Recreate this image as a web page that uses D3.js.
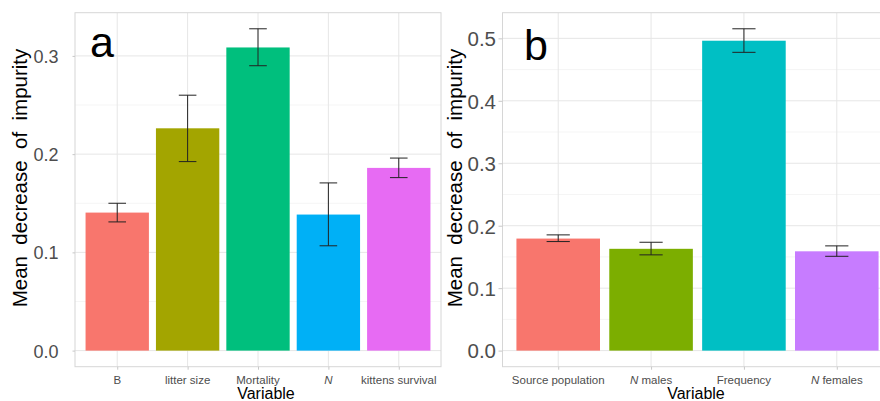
<!DOCTYPE html>
<html>
<head>
<meta charset="utf-8">
<script src="https://cdn.jsdelivr.net/npm/d3@7"></script>
<style>
  html, body { margin: 0; padding: 0; background: #fff; }
  svg { display: block; font-family: "Liberation Sans", Arial, sans-serif; }
</style>
</head>
<body>
<svg id="chart" width="880" height="401"></svg>
<script>
// panel a
const varsA = ["B", "litter size", "Mortality", "N", "kittens survival"];
const meanA = [0.1405, 0.2263, 0.3086, 0.1385, 0.186];
const lowA = [0.131, 0.1924, 0.290, 0.1067, 0.1761];
const highA = [0.150, 0.260, 0.3276, 0.1707, 0.196];
const colorsA = ["#F8766D", "#A3A500", "#00BF7D", "#00B0F6", "#E76BF3"];
const ticksA = [0.0, 0.1, 0.2, 0.3];

// panel b
const varsB = ["Source population", "N males", "Frequency", "N females"];
const meanB = [0.1794, 0.163, 0.4962, 0.159];
const lowB = [0.1746, 0.1533, 0.4776, 0.151];
const highB = [0.1853, 0.1735, 0.5153, 0.1677];
const colorsB = ["#F8766D", "#7CAE00", "#00BFC4", "#C77CFF"];
const ticksB = [0.0, 0.1, 0.2, 0.3, 0.4, 0.5];

const svg = d3.select("#chart");

function panel(opt) {
  const g = svg.append("g");
  const { left, right, top, bottom } = opt;
  const n = opt.vars.length;

  // ggplot style expansion: 0.6 band on each side, 5% on y
  const x = d3.scaleLinear().domain([0.4, n + 0.6]).range([left, right]);
  const ymax = d3.max(opt.high);
  const y = d3.scaleLinear().domain([-0.05 * ymax, 1.05 * ymax]).range([bottom, top]);

  const clipId = "clip" + opt.label;
  g.append("clipPath").attr("id", clipId)
    .append("rect").attr("x", left).attr("y", top)
    .attr("width", right - left).attr("height", bottom - top);

  const inner = g.append("g").attr("clip-path", `url(#${clipId})`);

  // minor grid
  const minor = opt.ticks.slice(0, -1).map(t => t + 0.05)
    .concat([opt.ticks[opt.ticks.length - 1] + 0.05]).filter(v => v < y.domain()[1]);
  inner.selectAll("line.minor").data(minor).enter().append("line")
    .attr("x1", left).attr("x2", right)
    .attr("y1", d => y(d)).attr("y2", d => y(d))
    .attr("stroke", "#f3f3f3").attr("stroke-width", 0.8);

  // major grid
  inner.selectAll("line.hmaj").data(opt.ticks).enter().append("line")
    .attr("x1", left).attr("x2", right)
    .attr("y1", d => y(d)).attr("y2", d => y(d))
    .attr("stroke", "#e6e6e6").attr("stroke-width", 1);
  inner.selectAll("line.vmaj").data(d3.range(1, n + 1)).enter().append("line")
    .attr("x1", d => x(d)).attr("x2", d => x(d))
    .attr("y1", top).attr("y2", bottom)
    .attr("stroke", "#e6e6e6").attr("stroke-width", 1);

  // bars
  inner.selectAll("rect.bar").data(opt.mean).enter().append("rect")
    .attr("x", (d, i) => x(i + 1 - 0.45))
    .attr("width", x(0.9) - x(0))
    .attr("y", d => y(d))
    .attr("height", d => y(0) - y(d))
    .attr("fill", (d, i) => opt.colors[i]);

  // error bars
  const eb = inner.selectAll("g.eb").data(opt.mean).enter().append("g")
    .attr("stroke", "#222").attr("stroke-width", 1).attr("fill", "none");
  const hw = (x(0.25) - x(0)) / 2;
  eb.append("line")
    .attr("x1", (d, i) => x(i + 1)).attr("x2", (d, i) => x(i + 1))
    .attr("y1", (d, i) => y(opt.low[i])).attr("y2", (d, i) => y(opt.high[i]));
  eb.append("line")
    .attr("x1", (d, i) => x(i + 1) - hw).attr("x2", (d, i) => x(i + 1) + hw)
    .attr("y1", (d, i) => y(opt.low[i])).attr("y2", (d, i) => y(opt.low[i]));
  eb.append("line")
    .attr("x1", (d, i) => x(i + 1) - hw).attr("x2", (d, i) => x(i + 1) + hw)
    .attr("y1", (d, i) => y(opt.high[i])).attr("y2", (d, i) => y(opt.high[i]));

  // border
  g.append("rect")
    .attr("x", left).attr("y", top)
    .attr("width", right - left).attr("height", bottom - top)
    .attr("fill", "none").attr("stroke", "#d6d6d6").attr("stroke-width", 1);

  // y axis
  const ya = g.append("g").attr("transform", `translate(${left},0)`)
    .call(d3.axisLeft(y).tickValues(opt.ticks).tickFormat(d3.format(".1f"))
      .tickSize(opt.tickLen).tickPadding(opt.tickPad));
  ya.select(".domain").remove();
  ya.selectAll(".tick line").attr("stroke", "#c8c8c8");
  ya.selectAll(".tick text").attr("fill", "#4d4d4d")
    .attr("font-size", opt.yFont).attr("font-family", "Liberation Sans, Arial, sans-serif")
    .attr("dy", "0.36em");

  // x axis
  const xa = g.append("g").attr("transform", `translate(0,${bottom})`)
    .call(d3.axisBottom(x).tickValues(d3.range(1, n + 1)).tickFormat("")
      .tickSize(3).tickPadding(6));
  xa.select(".domain").remove();
  xa.selectAll(".tick line").attr("stroke", "#c8c8c8");

  // x tick labels (N in italics)
  const xl = g.selectAll("text.xl").data(opt.vars).enter().append("text")
    .attr("x", (d, i) => x(i + 1)).attr("y", bottom + 17.5)
    .attr("text-anchor", "middle").attr("fill", "#4d4d4d")
    .attr("font-size", 11.5);
  xl.each(function (d) {
    const t = d3.select(this);
    if (d.startsWith("N")) {
      t.append("tspan").attr("font-style", "italic").text("N");
      t.append("tspan").text(d.slice(1));
    } else {
      t.text(d);
    }
  });

  // axis titles
  g.append("text")
    .attr("x", opt.xTitleX).attr("y", 399)
    .attr("text-anchor", "middle").attr("font-size", 16).attr("fill", "#000")
    .text("Variable");
  g.append("text")
    .attr("transform", `translate(${opt.yTitleX},178) rotate(-90)`)
    .attr("text-anchor", "middle").attr("font-size", 20.5).attr("fill", "#000")
    .attr("xml:space", "preserve").style("white-space", "pre")
    .text("Mean  decrease  of  impurity");

  // panel letter
  g.append("text")
    .attr("x", opt.labX).attr("y", opt.labY)
    .attr("font-size", 43).attr("fill", "#000")
    .text(opt.label);
}

panel({
  label: "a", vars: varsA, mean: meanA, low: lowA, high: highA, colors: colorsA,
  ticks: ticksA, left: 75, right: 441, top: 12.7, bottom: 366.7,
  tickLen: 2.5, tickPad: 14, yFont: 18, xTitleX: 266, yTitleX: 26.5,
  labX: 90, labY: 56.5
});

panel({
  label: "b", vars: varsB, mean: meanB, low: lowB, high: highB, colors: colorsB,
  ticks: ticksB, left: 502.5, right: 892.5, top: 12.7, bottom: 366.7,
  tickLen: 4, tickPad: 2.5, yFont: 20.5, xTitleX: 696, yTitleX: 461.5,
  labX: 524, labY: 60
});
</script>
</body>
</html>
